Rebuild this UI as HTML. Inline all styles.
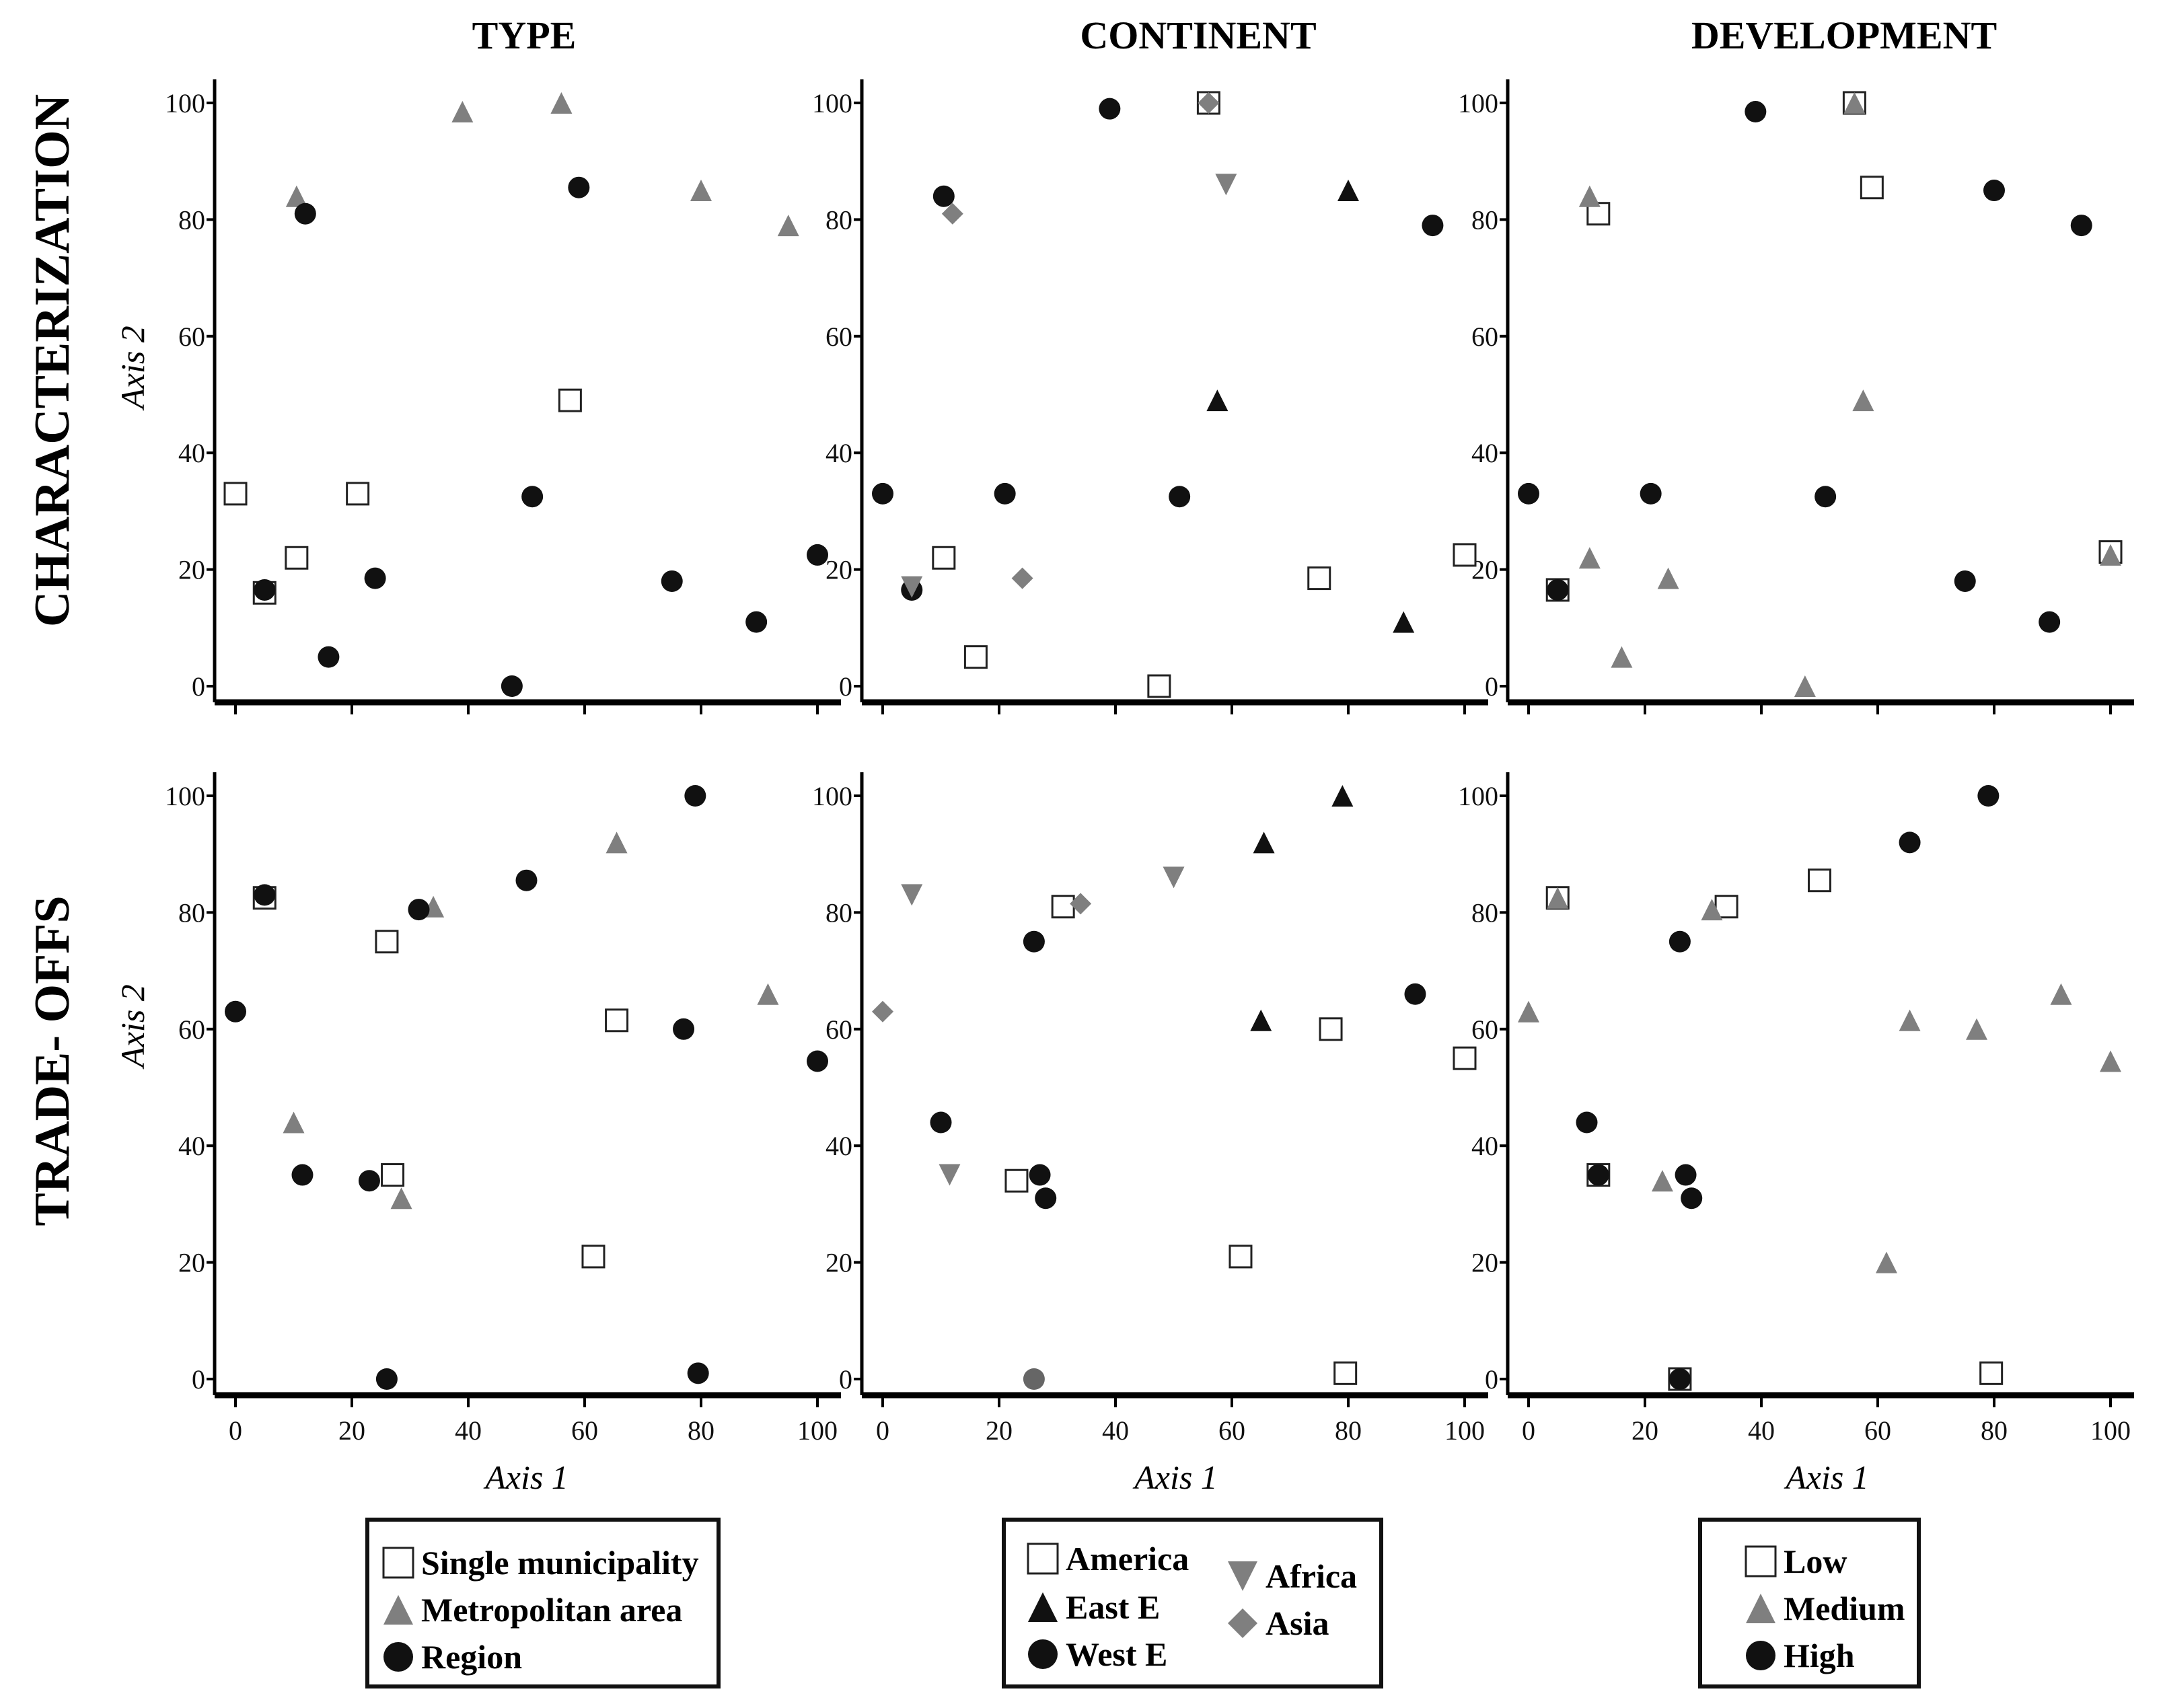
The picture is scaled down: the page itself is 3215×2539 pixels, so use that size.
<!DOCTYPE html>
<html><head><meta charset="utf-8"><style>
html,body{margin:0;padding:0;background:#fff}
svg{display:block}
text{font-family:"Liberation Serif",serif}
</style></head><body>
<svg id="c" width="3215" height="2539" viewBox="0 0 3215 2539" xmlns="http://www.w3.org/2000/svg"></svg>
<script>
// ---- data (Axis 1, Axis 2) ----
const xTicks=[0,20,40,60,80,100];
const yTicks=[0,20,40,60,80,100];
const colTitles=["TYPE","CONTINENT","DEVELOPMENT"];
const rowTitles=["CHARACTERIZATION","TRADE- OFFS"];
// Row 1 TYPE
const r1TypeSquare=[[0,33],[10.5,22],[21,33],[57.5,49],[5,16]];
const r1TypeTri=[[10.5,84],[39,98.5],[56,100],[80,85],[95,79]];
const r1TypeCircle=[[5,16.5],[12,81],[16,5],[24,18.5],[47.5,0],[51,32.5],[59,85.5],[75,18],[89.5,11],[100,22.5]];
// Row 1 CONTINENT
const r1ContSquare=[[10.5,22],[16,5],[47.5,0],[75,18.5],[100,22.5],[56,100]];
const r1ContTri=[[57.5,49],[80,85],[89.5,11]];
const r1ContCircle=[[0,33],[10.5,84],[21,33],[5,16.5],[39,99],[51,32.5],[94.5,79]];
const r1ContDown=[[59,86],[5,17]];
const r1ContDiamond=[[56,100],[12,81],[24,18.5]];
// Row 1 DEVELOPMENT
const r1DevSquare=[[12,81],[59,85.5],[56,100],[100,23],[5,16.5]];
const r1DevTri=[[10.5,84],[10.5,22],[24,18.5],[16,5],[47.5,0],[57.5,49],[56,100],[100,22.5]];
const r1DevCircle=[[0,33],[5,16.5],[21,33],[39,98.5],[51,32.5],[80,85],[75,18],[89.5,11],[95,79]];
// Row 2 TYPE
const r2TypeSquare=[[26,75],[27,35],[61.5,21],[65.5,61.5],[5,82.5]];
const r2TypeTri=[[10,44],[28.5,31],[34,81],[65.5,92],[91.5,66]];
const r2TypeCircle=[[0,63],[5,83],[11.5,35],[23,34],[26,0],[31.5,80.5],[50,85.5],[77,60],[79,100],[79.5,1],[100,54.5]];
// Row 2 CONTINENT
const r2ContSquare=[[31,81],[23,34],[61.5,21],[77,60],[79.5,1],[100,55]];
const r2ContTri=[[65.5,92],[79,100],[65,61.5]];
const r2ContCircle=[[26,75],[10,44],[27,35],[28,31],[91.5,66]];
const r2ContGreyCircle=[[26,0]];
const r2ContDown=[[5,83],[11.5,35],[50,86]];
const r2ContDiamond=[[0,63],[34,81.5]];
// Row 2 DEVELOPMENT
const r2DevSquare=[[5,82.5],[12,35],[34,81],[50,85.5],[79.5,1],[26,0]];
const r2DevTri=[[0,63],[5,82.5],[31.5,80.5],[23,34],[61.5,20],[65.5,61.5],[77,60],[91.5,66],[100,54.5]];
const r2DevCircle=[[10,44],[12,35],[26,75],[27,35],[28,31],[26,0],[65.5,92],[79,100]];

const NS="http://www.w3.org/2000/svg";
const svg=document.getElementById('c');
function el(t,a,p){const e=document.createElementNS(NS,t);for(const k in a)e.setAttribute(k,a[k]);(p||svg).appendChild(e);return e;}
const colX0=[350,1312,2272], span=865;
const rowY0=[1020,2050];
function sx(c,v){return colX0[c]+v/100*span;}
function sy(r,v){return rowY0[r]-v/100*867;}
const BLK="#111", GRY="#7f7f7f";
function marker(shape,x,y,s,fill,name,g){
  let e;
  if(shape==='square'){e=el('rect',{x:x-s/2,y:y-s/2,width:s,height:s,fill:'#fff',stroke:'#222','stroke-width':3},g);}
  else if(shape==='circle'){e=el('circle',{cx:x,cy:y,r:s/2,fill:fill},g);}
  else if(shape==='tri'){e=el('polygon',{points:`${x},${y-s/2} ${x+s/2},${y+s/2} ${x-s/2},${y+s/2}`,fill:fill},g);}
  else if(shape==='down'){e=el('polygon',{points:`${x-s/2},${y-s/2} ${x+s/2},${y-s/2} ${x},${y+s/2}`,fill:fill},g);}
  else if(shape==='diamond'){e=el('polygon',{points:`${x},${y-s/2} ${x+s/2},${y} ${x},${y+s/2} ${x-s/2},${y}`,fill:fill},g);}
  
  
  return e;
}
function series(r,c,arr,shape,fill,name){
  const g=el('g',{});
  
  
  arr.forEach(p=>marker(shape,sx(c,p[0]),sy(r,p[1]),32,fill,name+'-point',g));
}
// panels axes
for(let r=0;r<2;r++)for(let c=0;c<3;c++){
  const g=el('g',{});
  
  
  const ax=colX0[c]-31, ayTop=rowY0[r]-902, ayBot=rowY0[r]+24;
  const yl=el('line',{x1:ax,y1:ayTop,x2:ax,y2:ayBot,stroke:'#000','stroke-width':5},g);
  
  const xl=el('line',{x1:ax,y1:ayBot,x2:sx(c,100)+35,y2:ayBot,stroke:'#000','stroke-width':9},g);
  
  yTicks.forEach(v=>{
    el('line',{x1:ax-12,y1:sy(r,v),x2:ax,y2:sy(r,v),stroke:'#000','stroke-width':4},g);
    if(c===0||true){
      const t=el('text',{x:ax-14,y:sy(r,v)+14,'font-size':40,'text-anchor':'end',fill:'#111'},g);
      t.textContent=v;
      
    }
  });
  xTicks.forEach(v=>{
    el('line',{x1:sx(c,v),y1:ayBot,x2:sx(c,v),y2:ayBot+18,stroke:'#000','stroke-width':4},g);
    if(r===1){
      const t=el('text',{x:sx(c,v),y:2140,'font-size':40,'text-anchor':'middle',fill:'#111'},g);
      t.textContent=v;
      
    }
  });
}
// series
series(0,0,r1TypeSquare,'square','#fff','single-municipality');
series(0,0,r1TypeTri,'tri',GRY,'metropolitan-area');
series(0,0,r1TypeCircle,'circle',BLK,'region');
series(0,1,r1ContSquare,'square','#fff','america');
series(0,1,r1ContTri,'tri',BLK,'east-e');
series(0,1,r1ContCircle,'circle',BLK,'west-e');
series(0,1,r1ContDown,'down',GRY,'africa');
series(0,1,r1ContDiamond,'diamond',GRY,'asia');
series(0,2,r1DevSquare,'square','#fff','low');
series(0,2,r1DevTri,'tri',GRY,'medium');
series(0,2,r1DevCircle,'circle',BLK,'high');
series(1,0,r2TypeSquare,'square','#fff','single-municipality');
series(1,0,r2TypeTri,'tri',GRY,'metropolitan-area');
series(1,0,r2TypeCircle,'circle',BLK,'region');
series(1,1,r2ContSquare,'square','#fff','america');
series(1,1,r2ContTri,'tri',BLK,'east-e');
series(1,1,r2ContCircle,'circle',BLK,'west-e');
series(1,1,r2ContGreyCircle,'circle','#666','west-e-grey');
series(1,1,r2ContDown,'down',GRY,'africa');
series(1,1,r2ContDiamond,'diamond',GRY,'asia');
series(1,2,r2DevSquare,'square','#fff','low');
series(1,2,r2DevTri,'tri',GRY,'medium');
series(1,2,r2DevCircle,'circle',BLK,'high');
// titles
const ctx=[779,1781,2741];
colTitles.forEach((s,i)=>{const t=el('text',{x:ctx[i],y:72,'font-size':58,'font-weight':'bold','text-anchor':'middle'});t.textContent=s;
});
const rty=[536,1577];
rowTitles.forEach((s,i)=>{const t=el('text',{x:0,y:0,'font-size':74,'font-weight':'bold','text-anchor':'middle',transform:`translate(102,${rty[i]}) rotate(-90)`});t.textContent=s;
});
[546,1525].forEach(y=>{const t=el('text',{x:0,y:0,'font-size':50,'font-style':'italic','text-anchor':'middle',transform:`translate(214,${y}) rotate(-90)`});t.textContent='Axis 2';
});
[783,1748,2716].forEach(x=>{const t=el('text',{x:x,y:2213,'font-size':50,'font-style':'italic','text-anchor':'middle'});t.textContent='Axis 1';
});
// legends
function legend(x1,x2,items,name){
  const g=el('g',{});
  
  el('rect',{x:x1,y:2259,width:x2-x1,height:248,fill:'#fff',stroke:'#111','stroke-width':6},g);
  items.forEach(it=>{
    marker(it[0],it[1],it[2],44,it[3],'legend-marker',g);
    const t=el('text',{x:it[1]+34,y:it[2]+17,'font-size':50,'font-weight':'bold'},g);
    t.textContent=it[4];
    
  });
}
legend(546,1068,[['square',592,2323,'#fff','Single municipality'],['tri',592,2393,GRY,'Metropolitan area'],['circle',592,2463,BLK,'Region']],'legend-type');
legend(1492,2053,[['square',1550,2317,'#fff','America'],['tri',1550,2389,BLK,'East E'],['circle',1550,2459,BLK,'West E'],['down',1847,2343,GRY,'Africa'],['diamond',1847,2413,GRY,'Asia']],'legend-continent');
legend(2527,2852,[['square',2617,2321,'#fff','Low'],['tri',2617,2391,GRY,'Medium'],['circle',2617,2461,BLK,'High']],'legend-development');
</script>
</body></html>
